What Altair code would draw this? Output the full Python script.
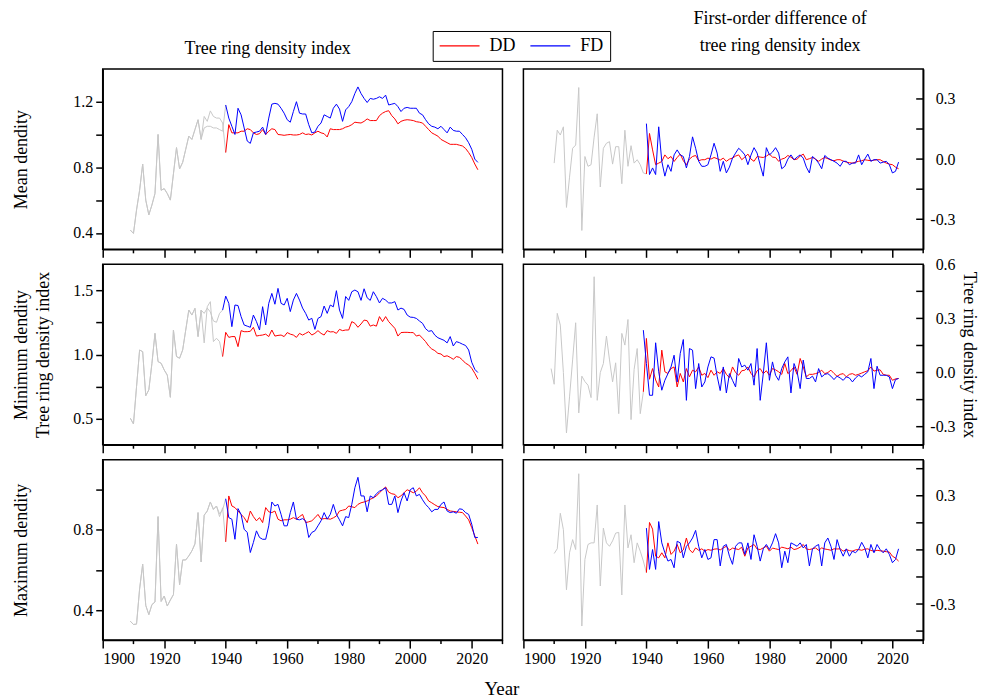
import json
import altair as alt
import pandas as pd

FONT = "Liberation Serif"
W, H = 401, 181
RED, BLUE, GREY = "#ff0000", "#0000ff", "#c8c8c8"

X_DOMAIN = [1900, 2030]
X_MAJOR = [1900, 1920, 1940, 1960, 1980, 2000, 2020]
X_MINOR = [1910, 1930, 1950, 1970, 1990, 2010, 2030]

# ---------------- Mean density (left) ----------------
mean_grey_start = 1909
mean_grey_common = [0.417, 0.397, 0.54, 0.66, 0.82, 0.60, 0.51, 0.57, 0.64, 1.00,
                    0.66, 0.67, 0.64, 0.60, 0.76, 0.92, 0.79, 0.83, 0.91, 0.99,
                    0.97, 1.03, 1.09, 0.97]
mean_grey_dd_tail = [1.11, 1.08, 1.144, 1.11, 1.10, 1.10, 1.07]
mean_grey_fd_tail = [1.04, 1.05, 1.05, 1.04, 1.04, 1.03, 1.02]
mean_start = 1940
mean_dd = [0.89, 1.06, 1.01, 1.01, 1.01, 1.02, 1.02, 1.035, 1.03, 1.01,
           1.00, 1.005, 1.03, 1.00, 1.02, 1.035, 1.03, 1.00, 0.998, 0.995,
           0.998, 1.00, 0.997, 0.997, 1.00, 1.01, 1.00, 1.003, 0.997, 1.01,
           1.02, 1.01, 1.005, 0.985, 1.035, 1.03, 1.03, 1.03, 1.035, 1.045,
           1.05, 1.06, 1.075, 1.072, 1.07, 1.08, 1.095, 1.085, 1.085, 1.085,
           1.115, 1.13, 1.14, 1.145, 1.115, 1.095, 1.065, 1.08, 1.087, 1.09,
           1.088, 1.085, 1.078, 1.075, 1.07, 1.05, 1.03, 1.01, 1.00, 0.99,
           0.97, 0.96, 0.95, 0.94, 0.94, 0.94, 0.935, 0.93, 0.915, 0.89,
           0.86, 0.82, 0.785]
mean_fd = [1.18, 1.10, 1.05, 1.00, 1.16, 1.12, 1.04, 0.96, 0.946, 1.01,
           1.015, 1.02, 1.045, 1.00, 1.10, 1.185, 1.19, 1.185, 1.16, 1.13,
           1.09, 1.075, 1.14, 1.20, 1.13, 1.125, 1.125, 1.06, 1.01, 1.015,
           1.05, 1.07, 1.12, 1.11, 1.10, 1.16, 1.185, 1.155, 1.08, 1.15,
           1.17, 1.20, 1.25, 1.29, 1.25, 1.22, 1.195, 1.22, 1.215, 1.22,
           1.23, 1.22, 1.24, 1.18, 1.185, 1.19, 1.17, 1.14, 1.16, 1.165,
           1.16, 1.16, 1.16, 1.13, 1.12, 1.09, 1.065, 1.05, 1.045, 1.035,
           1.05, 1.03, 1.01, 1.045, 1.025, 1.02, 1.02, 1.00, 0.98, 0.95,
           0.91, 0.85, 0.83]

# ---------------- Minimum density (left) ----------------
min_grey_start = 1909
min_grey_common = [0.505, 0.461, 0.75, 1.035, 1.022, 0.68, 0.726, 0.93, 1.164, 0.945,
                   0.932, 0.88, 0.84, 0.668, 1.19, 0.984, 0.971, 1.035, 1.19, 1.345,
                   1.306, 1.358, 1.139, 1.345]
min_grey_dd_tail = [1.09, 1.371, 1.41, 1.10, 1.126, 1.10]
min_grey_fd_tail = [1.319, 1.36, 1.33, 1.26, 1.25, 1.319]
min_start = 1939
min_dd = [0.984,
          1.172, 1.133, 1.139, 1.139, 1.061, 1.185, 1.177, 1.177, 1.18, 1.211,
          1.143, 1.148, 1.151, 1.158, 1.139, 1.19, 1.143, 1.148, 1.151, 1.139,
          1.17, 1.158, 1.151, 1.133, 1.164, 1.151, 1.164, 1.177, 1.151, 1.164,
          1.185, 1.164, 1.151, 1.185, 1.175, 1.177, 1.164, 1.195, 1.185, 1.19,
          1.19, 1.255, 1.242, 1.211, 1.237, 1.267, 1.262, 1.22, 1.229, 1.22,
          1.294, 1.255, 1.294, 1.255, 1.229, 1.203, 1.143, 1.17, 1.172, 1.172,
          1.17, 1.17, 1.143, 1.151, 1.126, 1.10, 1.066, 1.043, 1.03, 1.009,
          1.004, 0.984, 0.99, 0.978, 0.963, 0.984, 0.978, 0.957, 0.932, 0.919,
          0.893, 0.854, 0.808]
min_fd = [1.345,
          1.453, 1.397, 1.216, 1.384, 1.38, 1.294, 1.229, 1.22, 1.211, 1.306,
          1.255, 1.19, 1.371, 1.229, 1.397, 1.474, 1.39, 1.513, 1.397, 1.384,
          1.436, 1.333, 1.422, 1.474, 1.422, 1.36, 1.319, 1.267, 1.281, 1.195,
          1.28, 1.294, 1.376, 1.319, 1.384, 1.37, 1.495, 1.345, 1.28, 1.45,
          1.42, 1.487, 1.50, 1.487, 1.42, 1.51, 1.44, 1.42, 1.487, 1.449,
          1.40, 1.436, 1.422, 1.40, 1.40, 1.41, 1.345, 1.36, 1.35, 1.306,
          1.29, 1.288, 1.28, 1.26, 1.242, 1.20, 1.18, 1.185, 1.15, 1.13,
          1.12, 1.11, 1.09, 1.139, 1.066, 1.10, 1.092, 1.08, 1.07, 1.035,
          0.94, 0.885, 0.86]

# ---------------- Maximum density (left) ----------------
max_grey_start = 1909
max_grey_common = [0.344, 0.328, 0.33, 0.505, 0.629, 0.423, 0.377, 0.427, 0.44, 0.866,
                   0.443, 0.47, 0.42, 0.45, 0.477, 0.729, 0.526, 0.65, 0.65, 0.67,
                   0.695, 0.73, 0.886, 0.64, 0.873, 0.894, 0.939, 0.902, 0.919]
max_grey_dd_tail = [0.866, 0.91]
max_grey_fd_tail = [0.88, 0.90]
max_start = 1940
max_dd = [0.74, 0.969, 0.919, 0.911, 0.894, 0.877, 0.861, 0.836, 0.894, 0.866,
          0.845, 0.861, 0.836, 0.911, 0.89, 0.886, 0.894, 0.853, 0.845, 0.85,
          0.85, 0.853, 0.861, 0.853, 0.866, 0.877, 0.836, 0.84, 0.845, 0.86,
          0.877, 0.853, 0.856, 0.856, 0.853, 0.86, 0.869, 0.894, 0.898, 0.902,
          0.919, 0.915, 0.911, 0.927, 0.935, 0.939, 0.944, 0.952, 0.96, 0.969,
          0.985, 1.0, 1.014, 0.988, 0.98, 0.977, 0.96, 0.97, 0.985, 1.0,
          0.993, 0.985, 0.993, 1.01, 0.985, 0.969, 0.944, 0.935, 0.925, 0.916,
          0.913, 0.911, 0.902, 0.894, 0.892, 0.89, 0.888, 0.886, 0.869, 0.85,
          0.811, 0.77, 0.729]
max_fd = [0.955, 0.861, 0.853, 0.753, 0.906, 0.877, 0.803, 0.787, 0.687, 0.737,
          0.795, 0.762, 0.753, 0.753, 0.82, 0.939, 0.919, 0.927, 0.877, 0.82,
          0.82, 0.886, 0.939, 0.853, 0.85, 0.856, 0.845, 0.762, 0.787, 0.795,
          0.82, 0.845, 0.886, 0.853, 0.877, 0.927, 0.877, 0.85, 0.82, 0.866,
          0.861, 0.927, 1.01, 1.062, 0.969, 0.969, 0.89, 0.969, 0.96, 0.98,
          0.993, 1.0, 1.01, 0.927, 0.927, 0.969, 0.886, 0.944, 0.985, 0.944,
          1.0, 1.01, 0.969, 0.977, 0.95, 0.927, 0.911, 0.89, 0.902, 0.902,
          0.927, 0.939, 0.894, 0.886, 0.89, 0.883, 0.905, 0.902, 0.886, 0.877,
          0.828, 0.762, 0.762]

# ---------------- First differences (right) ----------------
dmean_grey_start = 1910
dmean_grey = [-0.02, 0.144, 0.12, 0.161, -0.241, -0.09, 0.054, 0.07, 0.357, -0.356,
              0.013, -0.036, -0.028, 0.11, 0.226, -0.139, 0.054, 0.079, 0.087, -0.025,
              0.062, 0.062, -0.123, 0.144, -0.036, 0.067, -0.02, -0.003, -0.028, -0.069]
dmean_start = 1940
dmean_dd = [-0.074, 0.128, 0.046, -0.028, -0.02, -0.012, 0.021, 0.002, 0.013, -0.012,
            0.008, 0.025, -0.008, -0.028, 0.0, 0.013, 0.018, -0.008, -0.003, -0.003,
            0.005, 0.0, 0.008, 0.002, -0.005, 0.005, -0.011, 0.0, 0.005, 0.015,
            0.021, -0.003, 0.01, 0.025, 0.0, -0.011, 0.013, 0.01, 0.008, 0.015,
            0.025, 0.01, 0.008, -0.011, 0.0, 0.005, 0.018, 0.01, -0.003, 0.0,
            0.015, 0.025, -0.003, 0.002, 0.008, 0.0, -0.011, 0.0, 0.008, 0.002,
            -0.005, -0.008, -0.003, -0.003, -0.01, -0.015, -0.018, -0.02, -0.015, -0.011,
            -0.008, -0.003, -0.006, -0.008, -0.005, -0.003, -0.003, -0.012, -0.02, -0.025,
            -0.028, -0.04, -0.048]
dmean_fd = [0.177, -0.077, -0.044, -0.077, 0.161, -0.011, -0.085, -0.028, -0.061, 0.021,
            0.046, 0.021, 0.013, -0.044, 0.013, 0.111, 0.054, -0.011, -0.036, -0.036,
            -0.028, 0.021, 0.079, 0.03, -0.061, -0.011, -0.069, -0.04, 0.005, 0.03,
            0.054, 0.04, 0.021, -0.028, 0.02, 0.057, 0.03, -0.03, -0.085, 0.057,
            0.021, 0.035, 0.057, 0.03, -0.048, -0.036, 0.0, 0.021, -0.003, 0.01,
            0.021, 0.005, -0.04, -0.069, 0.013, 0.0, -0.02, -0.048, 0.018, 0.005,
            -0.003, -0.011, -0.02, -0.036, -0.011, -0.011, -0.028, -0.02, -0.02, 0.021,
            -0.028, 0.0, 0.025, -0.011, -0.003, -0.003, -0.02, -0.015, -0.011, -0.028,
            -0.069, -0.061, -0.015]

dmin_grey_start = 1909
dmin_grey = [0.022, -0.065, 0.328, 0.263, 0.0, -0.335, -0.135, 0.07, 0.276, -0.224,
             -0.02, -0.05, -0.07, -0.139, 0.531, -0.154, 0.0, 0.05, 0.202, 0.07,
             -0.052, 0.054, -0.228, 0.217, 0.152, 0.294, -0.261, 0.017, 0.133, -0.228]
dmin_start = 1939
dmin_dd = [-0.107,
           0.189, -0.037, 0.022, -0.041, -0.08, 0.124, 0.004, -0.005, 0.022, 0.031,
           -0.08, -0.005, -0.052, 0.022, -0.024, 0.013, 0.004, 0.031, -0.015, -0.005,
           -0.028, 0.013, -0.015, 0.004, -0.005, 0.022, -0.01, -0.028, 0.031, 0.0,
           -0.015, 0.01, 0.013, 0.031, -0.005, -0.024, 0.01, 0.022, -0.006, 0.01,
           -0.015, 0.022, 0.015, 0.004, -0.01, 0.05, -0.006, 0.01, 0.031, -0.01,
           0.078, 0.031, -0.024, -0.01, -0.01, -0.006, 0.0, 0.013, -0.006, 0.0,
           0.013, -0.005, -0.021, -0.01, -0.006, -0.024, -0.01, -0.006, -0.015, -0.01,
           -0.003, 0.004, 0.01, 0.031, 0.008, 0.013, 0.015, -0.01, -0.015, -0.015,
           -0.043, -0.035, -0.033]
dmin_fd = [0.235,
           0.05, -0.126, -0.126, 0.165, 0.004, -0.098, -0.043, -0.006, 0.031, 0.096,
           -0.052, 0.106, 0.183, -0.154, 0.133, 0.124, -0.089, 0.05, -0.08, -0.052,
           0.031, 0.087, 0.08, -0.02, -0.1, 0.031, -0.113, -0.006, -0.043, -0.08,
           0.078, 0.031, 0.041, 0.013, 0.05, -0.07, 0.133, -0.154, -0.006, 0.165,
           -0.043, 0.059, -0.015, -0.043, 0.022, 0.059, 0.087, -0.113, 0.05, 0.004,
           -0.089, 0.069, -0.033, -0.033, -0.02, -0.052, 0.022, -0.024, -0.01, -0.006,
           -0.02, -0.039, -0.02, -0.03, -0.043, -0.024, -0.03, -0.052, -0.03, -0.015,
           -0.024, -0.01, 0.004, 0.078, -0.089, 0.035, -0.015, -0.015, -0.015, -0.024,
           -0.089, -0.039, -0.033]

dmax_grey_start = 1910
dmax_grey = [-0.02, 0.006, 0.203, 0.112, -0.221, -0.016, 0.057, 0.002, 0.422, -0.422,
             -0.053, 0.03, 0.039, 0.039, 0.249, -0.2, 0.121, 0.039, 0.02, 0.05,
             0.093, 0.097, -0.25, 0.249, 0.011, 0.084, -0.071, 0.039, -0.007, -0.062]
dmax_start = 1940
dmax_dd = [-0.126, 0.152, 0.115, -0.035, -0.044, -0.016, -0.044, 0.039, -0.025, -0.007,
           0.03, -0.016, 0.0, 0.066, 0.002, -0.016, 0.011, -0.002, 0.006, -0.007,
           0.002, -0.002, 0.004, 0.006, 0.0, 0.011, 0.02, -0.002, 0.01, 0.006,
           0.002, 0.015, -0.035, 0.011, 0.02, 0.03, 0.005, 0.002, 0.011, 0.02,
           -0.007, 0.01, 0.006, 0.002, 0.015, 0.011, 0.006, 0.015, 0.002, 0.006,
           0.015, 0.03, 0.005, 0.002, 0.006, 0.011, -0.002, 0.011, 0.005, 0.002,
           -0.002, 0.006, 0.005, 0.006, -0.007, 0.002, -0.004, -0.007, 0.0, 0.002,
           -0.002, 0.004, 0.006, -0.003, -0.007, -0.002, -0.005, -0.007, -0.01, -0.012,
           -0.035, -0.045, -0.062]
dmax_fd = [0.121, -0.108, 0.002, -0.108, 0.157, 0.039, -0.016, -0.062, -0.053, -0.099,
           0.048, 0.039, -0.044, 0.02, 0.039, 0.066, 0.108, 0.02, -0.044, 0.002,
           -0.053, -0.044, 0.057, 0.057, -0.089, 0.02, 0.03, -0.035, -0.08, 0.02,
           0.039, 0.039, -0.025, 0.039, -0.053, 0.084, 0.02, -0.062, 0.006, 0.03,
           0.002, 0.039, 0.09, 0.039, -0.099, -0.007, -0.071, 0.039, 0.03, 0.02,
           0.039, 0.011, 0.03, -0.089, 0.006, 0.02, 0.03, -0.089, 0.039, 0.066,
           0.02, -0.053, 0.057, 0.002, -0.035, 0.006, -0.035, -0.007, -0.016, 0.002,
           0.042, 0.011, -0.044, 0.03, -0.016, 0.03, 0.002, -0.016, 0.006, -0.025,
           -0.071, -0.053, 0.006]

# ---------------- axis settings ----------------
mean_ydom, mean_yticks, mean_ylab = [0.3, 1.4], [0.4, 0.6, 0.8, 1.0, 1.2], ["0.4", "0.8", "1.2"]
min_ydom, min_yticks, min_ylab = [0.3, 1.7], [0.5, 0.75, 1.0, 1.25, 1.5], ["0.5", "1.0", "1.5"]
max_ydom, max_yticks, max_ylab = [0.25, 1.15], [0.4, 0.6, 0.8, 1.0], ["0.4", "0.8"]
dmean_ydom, dmean_yticks, dmean_ylab = [-0.45, 0.45], [-0.3, -0.15, 0.0, 0.15, 0.3], [-0.3, 0.0, 0.3]
dmin_ydom, dmin_yticks, dmin_ylab = [-0.4, 0.6], [-0.3, -0.15, 0.0, 0.15, 0.3, 0.45], [-0.3, 0.0, 0.3, 0.6]
dmax_ydom, dmax_yticks, dmax_ylab = [-0.5, 0.5], [-0.45, -0.3, -0.15, 0.0, 0.15, 0.3, 0.45], [-0.3, 0.0, 0.3]


def seq(start, vals, name):
    return pd.DataFrame({"year": list(range(start, start + len(vals))), "value": vals, "series": name})


def left_frames(gstart, common, dd_tail, fd_tail, start, dd, fd):
    n = len(common)
    ty = list(range(gstart, gstart + n))
    tail_y = list(range(gstart + n, gstart + n + len(dd_tail)))
    g_dd = pd.DataFrame({"year": ty + tail_y + [start], "value": common + dd_tail + [dd[0]], "series": "gDD"})
    g_fd = pd.DataFrame({"year": ty + tail_y + [start], "value": common + fd_tail + [fd[0]], "series": "gFD"})
    grey = pd.concat([g_dd, g_fd], ignore_index=True)
    col = pd.concat([seq(start, dd, "DD"), seq(start, fd, "FD")], ignore_index=True)
    return grey, col


def right_frames(gstart, g, start, dd, fd):
    gy = list(range(gstart, gstart + len(g)))
    grey = pd.DataFrame({"year": gy + [start], "value": g + [dd[0]], "series": "g"})
    col = pd.concat([seq(start, dd, "DD"), seq(start, fd, "FD")], ignore_index=True)
    return grey, col


def panel(grey_df, col_df, ydom, yticks, ylab, side, bottom, ytitle=None, title_pad=10,
          title=None, legend=None, xtitle=None):
    xaxis = alt.Axis(values=X_MAJOR, tickSize=8, labels=bottom, format="d", labelPadding=2,
                     title=xtitle, titleX=400, titlePadding=14, titleFontSize=19)
    x = alt.X("year:Q", scale=alt.Scale(domain=X_DOMAIN, nice=False, zero=False), axis=xaxis)
    yscale = alt.Scale(domain=ydom, nice=False, zero=False)
    if side == "left":
        expr = ("indexof(%s, format(datum.value, '.1f')) >= 0 ? format(datum.value, '.1f') : ''"
                % json.dumps(ylab))
        yaxis = alt.Axis(orient="left", values=yticks, labelExpr=expr, tickSize=7, labelPadding=3,
                         title=ytitle, titlePadding=title_pad, titleLineHeight=22)
    else:
        yaxis = alt.Axis(orient="right", values=ylab, ticks=False, tickSize=0, labelAlign="right",
                         labelPadding=32, labelExpr="replace(format(datum.value, '.1f'), '\u2212', '-')",
                         title=ytitle, titlePadding=title_pad)
    y = alt.Y("value:Q", scale=yscale, axis=yaxis)

    grey = alt.Chart(grey_df).mark_line(color=GREY, strokeWidth=1).encode(x=x, y=y, detail="series:N")
    col = alt.Chart(col_df).mark_line(strokeWidth=1).encode(
        x=x, y=y,
        color=alt.Color("series:N", scale=alt.Scale(domain=["DD", "FD"], range=[RED, BLUE]),
                        legend=legend))
    minor = alt.Chart(pd.DataFrame({"year": X_MINOR})).mark_rule(color="black", strokeWidth=1.5).encode(
        x=x, y=alt.value(H), y2=alt.value(H + 4))
    layers = [grey, col, minor]
    if side == "right":
        rt = alt.Chart(pd.DataFrame({"value": yticks})).mark_rule(color="black", strokeWidth=1.5).encode(
            y=y, x=alt.value(W - 7), x2=alt.value(W))
        layers.append(rt)
    ch = alt.layer(*layers).properties(width=W, height=H)
    if title is not None:
        ch = ch.properties(title=title)
    return ch


legend = alt.Legend(orient="none", legendX=331, legendY=-38, direction="horizontal", title=None,
                    symbolType="stroke", symbolSize=1600, symbolStrokeWidth=1.2, clipHeight=18,
                    labelFont=FONT, labelFontSize=18, labelColor="black", labelOffset=9,
                    strokeColor="black", fillColor="white", padding=6, columnPadding=14,
                    cornerRadius=0)

g1, c1 = left_frames(mean_grey_start, mean_grey_common, mean_grey_dd_tail, mean_grey_fd_tail, mean_start, mean_dd, mean_fd)
g2, c2 = left_frames(min_grey_start, min_grey_common, min_grey_dd_tail, min_grey_fd_tail, min_start, min_dd, min_fd)
g3, c3 = left_frames(max_grey_start, max_grey_common, max_grey_dd_tail, max_grey_fd_tail, max_start, max_dd, max_fd)
r1, d1 = right_frames(dmean_grey_start, dmean_grey, dmean_start, dmean_dd, dmean_fd)
r2, d2 = right_frames(dmin_grey_start, dmin_grey, dmin_start, dmin_dd, dmin_fd)
r3, d3 = right_frames(dmax_grey_start, dmax_grey, dmax_start, dmax_dd, dmax_fd)

t_left = alt.TitleParams("Tree ring density index", dx=-35, dy=62, offset=16, baseline="bottom",
                         anchor="middle", font=FONT, fontSize=18, fontWeight="normal")
t_right = alt.TitleParams(["First-order difference of", "tree ring density index"], dx=57, dy=20,
                          offset=16, baseline="bottom", anchor="middle", lineHeight=27, font=FONT,
                          fontSize=18, fontWeight="normal")

p11 = panel(g1, c1, mean_ydom, mean_yticks, mean_ylab, "left", False, ytitle="Mean dendity",
            title_pad=42, title=t_left, legend=legend)
p12 = panel(r1, d1, dmean_ydom, dmean_yticks, dmean_ylab, "right", False, title=t_right)
p21 = panel(g2, c2, min_ydom, min_yticks, min_ylab, "left", False,
            ytitle=["Minimum dendity", "Tree ring density index"], title_pad=20)
p22 = panel(r2, d2, dmin_ydom, dmin_yticks, dmin_ylab, "right", False,
            ytitle="Tree ring density index", title_pad=4)
p31 = panel(g3, c3, max_ydom, max_yticks, max_ylab, "left", True, ytitle="Maximum dendity",
            title_pad=42, xtitle="Year")
p32 = panel(r3, d3, dmax_ydom, dmax_yticks, dmax_ylab, "right", True)

chart = alt.concat(
    p11, p12, p21, p22, p31, p32, columns=2,
    spacing={"row": 15, "column": 21}, bounds="flush"
).resolve_legend(
    color="independent"
).properties(
    padding={"left": 4, "top": 0, "right": 2, "bottom": 0}
).configure_view(
    stroke="black", strokeWidth=1.5
).configure_axis(
    domainColor="black", domainWidth=1.5, tickColor="black", tickWidth=1.5,
    labelFont=FONT, labelFontSize=16, labelColor="black",
    titleFont=FONT, titleFontSize=18, titleFontWeight="normal", titleColor="black", grid=False
).configure_title(
    font=FONT, fontSize=18, fontWeight="normal", color="black"
)

chart.save("out.html", embed_options={"renderer": "svg", "actions": False})
